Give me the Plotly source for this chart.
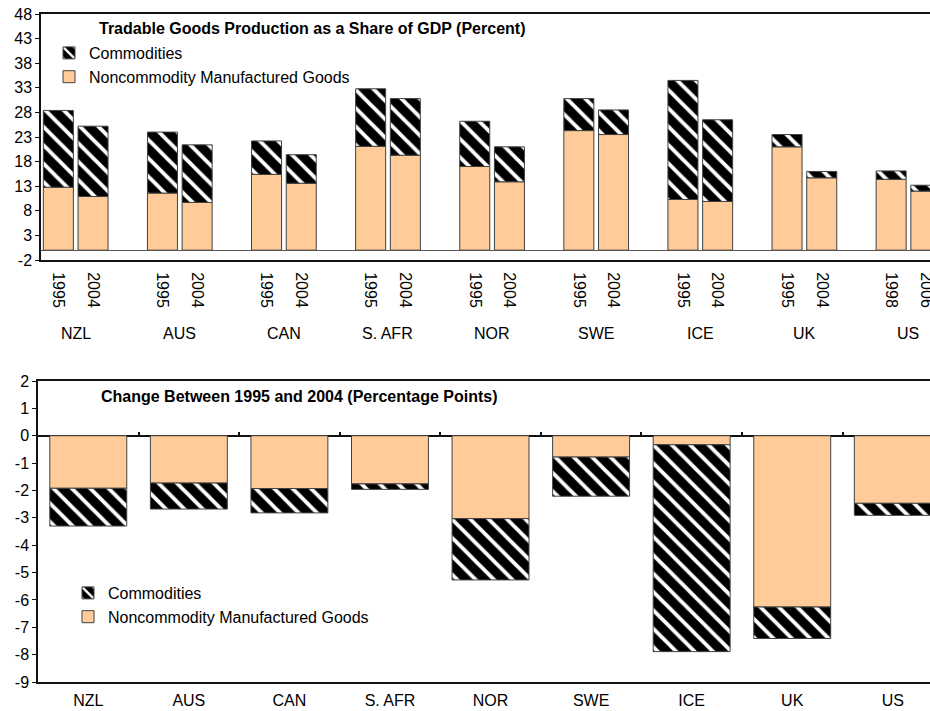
import plotly.graph_objects as go

# Countries and the two years compared for each
countries = ["NZL", "AUS", "CAN", "S. AFR", "NOR", "SWE", "ICE", "UK", "US"]
first_years = ["1995", "1995", "1995", "1995", "1995", "1995", "1995", "1995", "1998"]
last_years = ["2004", "2004", "2004", "2004", "2004", "2004", "2004", "2004", "2006"]

# Share of GDP (percent), first year
noncom_first = [12.8, 11.6, 15.4, 21.1, 17.0, 24.3, 10.3, 21.0, 14.4]
commod_first = [15.6, 12.4, 6.8, 11.7, 9.2, 6.5, 24.2, 2.5, 1.7]
# Share of GDP (percent), last year
noncom_last = [10.9, 9.7, 13.6, 19.3, 13.9, 23.5, 9.9, 14.7, 12.0]
commod_last = [14.3, 11.7, 5.8, 11.5, 7.1, 5.0, 16.6, 1.3, 1.2]

# Change between the two years (percentage points)
noncom_change = [-1.92, -1.73, -1.93, -1.76, -3.03, -0.78, -0.33, -6.26, -2.47]
commod_change = [-1.38, -0.95, -0.89, -0.20, -2.24, -1.43, -7.56, -1.15, -0.44]

# Axis tick values
top_ticks = [-2, 3, 8, 13, 18, 23, 28, 33, 38, 43, 48]
bot_ticks = [-9, -8, -7, -6, -5, -4, -3, -2, -1, 0, 1, 2]

PEACH = "#FFCC99"
EDGE = "#404040"
FONT = "Liberation Sans, Arial, sans-serif"
FS = 16

# Top panel: two bars per country followed by an empty slot
slot_x, slot_text, noncom_top, commod_top = [], [], [], []
for i in range(len(countries)):
    slot_x += [3 * i, 3 * i + 1]
    slot_text += [first_years[i], last_years[i]]
    noncom_top += [noncom_first[i], noncom_last[i]]
    commod_top += [commod_first[i], commod_last[i]]

hatch = dict(shape="\\", bgcolor="black", fgcolor="white", size=13,
             solidity=0.3, fillmode="replace")

fig = go.Figure()
fig.add_trace(go.Bar(x=slot_x, y=noncom_top, name="Noncommodity Manufactured Goods",
                     marker=dict(color=PEACH, line=dict(color=EDGE, width=1)),
                     width=0.865, xaxis="x", yaxis="y", legend="legend"))
fig.add_trace(go.Bar(x=slot_x, y=commod_top, name="Commodities",
                     marker=dict(color="black", pattern=hatch, line=dict(color=EDGE, width=1)),
                     width=0.865, xaxis="x", yaxis="y", legend="legend"))

idx = list(range(len(countries)))
fig.add_trace(go.Bar(x=idx, y=noncom_change, name="Noncommodity Manufactured Goods",
                     marker=dict(color=PEACH, line=dict(color=EDGE, width=1)),
                     width=0.765, xaxis="x2", yaxis="y2", legend="legend2"))
fig.add_trace(go.Bar(x=idx, y=commod_change, name="Commodities",
                     marker=dict(color="black", pattern=hatch, line=dict(color=EDGE, width=1)),
                     width=0.765, xaxis="x2", yaxis="y2", legend="legend2"))
# carrier for the tick-mark axis on the zero line of the lower panel
fig.add_trace(go.Scatter(x=[None], y=[None], xaxis="x3", yaxis="y2",
                         showlegend=False, hoverinfo="skip"))

H, W = 711, 930
top_y = [1 - 260 / H, 1 - 14 / H]
bot_y = [1 - 682 / H, 1 - 381 / H]
zero_bot = bot_y[0] + (bot_y[1] - bot_y[0]) * (9 / 11)

tickfont = dict(family=FONT, size=FS, color="black")

fig.update_layout(
    width=W, height=H,
    margin=dict(l=0, r=0, t=0, b=0, autoexpand=False),
    paper_bgcolor="white", plot_bgcolor="white",
    barmode="relative",
    font=dict(family=FONT, size=FS, color="black"),
    xaxis=dict(domain=[41 / W, 1], range=[-0.5, 25.12], tickmode="array",
               tickvals=slot_x, ticktext=slot_text, tickangle=90, ticks="",
               ticklabelstandoff=7, ticklabeloverflow="allow",
               tickfont=tickfont, automargin=False,
               showline=True, linecolor="#111", linewidth=2, mirror=True,
               showgrid=False, zeroline=False, anchor="y"),
    yaxis=dict(domain=top_y, range=[-2, 48], tickmode="array",
               tickvals=top_ticks, ticktext=[str(v) for v in top_ticks],
               ticks="outside", ticklen=4, tickcolor="#111", tickwidth=1,
               showline=True, linecolor="#111", linewidth=1.5, automargin=False,
               showgrid=False, zeroline=True, zerolinecolor="#555", zerolinewidth=1,
               tickfont=tickfont, anchor="x"),
    xaxis2=dict(domain=[38 / W, 1], range=[-0.5, 8.37], tickmode="array",
                tickvals=idx, ticktext=countries, ticks="", ticklabelstandoff=3,
                tickfont=tickfont, showline=True, linecolor="#111", linewidth=2,
                mirror=True, showgrid=False, zeroline=False, anchor="y2",
                automargin=False),
    xaxis3=dict(overlaying="x2", anchor="free", position=zero_bot,
                range=[-0.5, 8.37], tickmode="array",
                tickvals=[i + 0.5 for i in idx[:-1]], ticks="inside", ticklen=4,
                tickwidth=1.5, tickcolor="#111", showticklabels=False,
                showline=False, showgrid=False, zeroline=False, automargin=False),
    yaxis2=dict(domain=bot_y, range=[-9, 2], tickmode="array",
                tickvals=bot_ticks, ticktext=[str(v) for v in bot_ticks],
                ticks="outside", ticklen=4, tickcolor="#111", tickwidth=1,
                showline=True, linecolor="#111", linewidth=1.5, automargin=False,
                showgrid=False, zeroline=True, zerolinecolor="#111", zerolinewidth=2,
                tickfont=tickfont, anchor="x2"),
    legend=dict(x=49 / W, y=1 - 36 / H, xanchor="left", yanchor="top",
                traceorder="reversed", bgcolor="rgba(0,0,0,0)",
                font=dict(family=FONT, size=FS, color="black")),
    legend2=dict(x=68 / W, y=1 - 576 / H, xanchor="left", yanchor="top",
                 traceorder="reversed", bgcolor="rgba(0,0,0,0)",
                 font=dict(family=FONT, size=FS, color="black")),
    showlegend=True,
)

# Panel titles
fig.add_annotation(text="<b>Tradable Goods Production as a Share of GDP (Percent)</b>",
                   xref="paper", yref="paper", x=97 / W, y=1 - 29 / H,
                   xanchor="left", yanchor="middle", showarrow=False,
                   font=dict(family=FONT, size=FS, color="black"))
fig.add_annotation(text="<b>Change Between 1995 and 2004 (Percentage Points)</b>",
                   xref="paper", yref="paper", x=99 / W, y=1 - 396 / H,
                   xanchor="left", yanchor="middle", showarrow=False,
                   font=dict(family=FONT, size=FS, color="black"))

# Country names beneath each pair of years
for i, c in enumerate(countries):
    fig.add_annotation(text=c, xref="x", yref="paper", x=3 * i + 0.5, y=1 - 333 / H,
                       xanchor="center", yanchor="middle", showarrow=False,
                       font=dict(family=FONT, size=FS, color="black"))

fig.write_html("out.html")
